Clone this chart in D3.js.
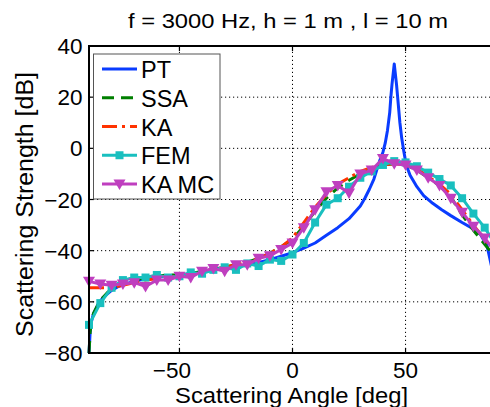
<!DOCTYPE html>
<html><head><meta charset="utf-8">
<script src="https://cdn.jsdelivr.net/npm/d3@7"></script>
<style>
body{margin:0;background:#fff;}
svg{display:block;font-family:"Liberation Sans",Arial,Helvetica,sans-serif;}
</style></head>
<body>
<svg id="chart" width="490" height="407"></svg>
<script>
const title = "f = 3000 Hz, h = 1 m , l = 10 m";
const xLabel = "Scattering Angle [deg]";
const yLabel = "Scattering Strength [dB]";
const xTicks = [-50, 0, 50];
const yTicks = [-80, -60, -40, -20, 0, 20, 40];
const seriesNames = ["PT", "SSA", "KA", "FEM", "KA MC"];

const ptAngle = [-90,-89.5,-89,-88,-86,-84,-82,-80,-77,-74,-70,-65,-60,-55,-50,-45,-40,-35,-30,-25,-20,-15,-10,-5,0,5,10,15,20,25,30,32,34,36,38.5,40,41,42,43,43.5,44,45,46,46.5,47.5,48.3,49.2,50.3,52,55,58,62,66,70,75,80,83,86,88,89,89.5,90];
const ptValue = [-80,-72,-68,-64.5,-61,-58.5,-57,-55.5,-54,-53,-52,-51,-50.3,-50,-49.5,-49,-48.3,-47.6,-47,-46.3,-45.5,-44.6,-43.5,-42.2,-40.8,-39,-37,-34,-31,-27.5,-22.5,-19.5,-16,-12,-5,-1.5,2,7,14,20,25,33,25,20,10,4,-1,-6.5,-10.5,-15,-18.5,-21.5,-24,-26.3,-29,-31.5,-33.5,-38,-46,-54,-62,-80];

const ssaAngle = [-90,-89.5,-89,-88,-86,-84,-82,-80,-77,-74,-70,-65,-60,-55,-50,-45,-40,-35,-30,-25,-20,-15,-10,-5,0,5,10,15,20,25,30,35,40,45,50,55,60,65,70,75,80,85,90];
const ssaValue = [-80,-72,-68,-64.5,-61,-58.5,-56.5,-55,-53.5,-52.5,-51.5,-50.5,-50,-49.5,-49.5,-49,-48,-47.2,-46.5,-45.5,-44.5,-43,-41,-38.5,-35.5,-30.5,-24.5,-19.5,-15.5,-12.5,-10,-8,-6.5,-6,-6.5,-8.5,-11.5,-14.5,-19,-26,-32,-37.5,-43];

const stepAngle = [-90,-85,-80,-75,-70,-65,-60,-55,-50,-45,-40,-35,-30,-25,-20,-15,-10,-5,0,5,10,15,20,25,30,35,40,45,50,55,60,65,70,75,80,85,90];
const kaValue = [-54.5,-54.5,-54.5,-53.5,-52.5,-51.5,-51,-50.5,-50,-49,-48,-47.5,-46.5,-45.5,-44.5,-43,-41,-38.5,-35,-29,-23,-18,-14,-11.5,-9,-7.5,-6.5,-6,-6.5,-8,-11,-14,-18,-24,-30,-35.5,-41];
const femValue = [-69,-60.5,-54.5,-51.5,-50.5,-50.5,-49.5,-50.5,-50,-48.5,-49,-47.5,-46.5,-47.5,-45,-46,-43.5,-44,-41.5,-37,-29,-22,-19.5,-15,-11.5,-9,-6.5,-5,-5.5,-7,-9.5,-12,-14.5,-19.5,-25.5,-31,-38];
const kamcValue = [-52,-53,-53.5,-53,-52.5,-54,-51.5,-51.5,-50,-50.5,-48,-47,-48,-45.5,-45.5,-43,-42,-39.5,-37,-31,-24,-17,-14.5,-17.5,-10,-8.5,-4,-6,-6.5,-8.5,-11.5,-14.5,-19.5,-25,-30.5,-35,-41];

const colors = {PT:"#0a3cff", SSA:"#007f00", KA:"#ff3300", FEM:"#19bfbf", "KA MC":"#bf3fbf"};
const dash = {PT:null, SSA:"12,7", KA:"15,5,3,5", FEM:null, "KA MC":null};

const svg = d3.select("#chart");
const x = d3.scaleLinear().domain([-90, 90]).range([89, 496]);
const y = d3.scaleLinear().domain([-80, 40]).range([353, 46]);

// grid
const grid = svg.append("g").attr("stroke", "#000").attr("stroke-width", 1).attr("stroke-dasharray", "1.2,2.8");
xTicks.forEach(t => grid.append("line").attr("x1", x(t)).attr("x2", x(t)).attr("y1", y(-80)).attr("y2", y(40)));
yTicks.forEach(t => grid.append("line").attr("x1", x(-90)).attr("x2", x(90)).attr("y1", y(t)).attr("y2", y(t)));

const line = d3.line().x(d => x(d[0])).y(d => y(d[1]));
const zip = (a, b) => a.map((v, i) => [v, b[i]]);

const ptData = zip(ptAngle, ptValue);
const ssaData = zip(ssaAngle, ssaValue);
const kaData = zip(stepAngle, kaValue);
const femData = zip(stepAngle, femValue);
const kamcData = zip(stepAngle, kamcValue);

const plot = svg.append("g").attr("fill", "none").attr("stroke-width", 3).attr("stroke-linejoin", "round");
plot.append("path").datum(ptData).attr("d", line).attr("stroke", colors.PT);
plot.append("path").datum(ssaData).attr("d", line).attr("stroke", colors.SSA).attr("stroke-dasharray", dash.SSA);
plot.append("path").datum(kaData).attr("d", line).attr("stroke", colors.KA).attr("stroke-dasharray", dash.KA);
plot.append("path").datum(femData).attr("d", line).attr("stroke", colors.FEM);
svg.append("g").selectAll("rect").data(femData).join("rect")
  .attr("x", d => x(d[0]) - 4).attr("y", d => y(d[1]) - 4).attr("width", 8).attr("height", 8)
  .attr("fill", colors.FEM);
svg.append("path").datum(kamcData).attr("d", line).attr("fill", "none").attr("stroke-width", 3).attr("stroke", colors["KA MC"]);
const tri = (cx, cy) => `M${cx-6},${cy-4.5}L${cx+6},${cy-4.5}L${cx},${cy+6}Z`;
svg.append("g").selectAll("path").data(kamcData).join("path")
  .attr("d", d => tri(x(d[0]), y(d[1]))).attr("fill", colors["KA MC"]);

// axes
const ax = svg.append("g").attr("stroke", "#000");
ax.append("line").attr("x1", x(-90) - 1).attr("x2", 500).attr("y1", y(-80)).attr("y2", y(-80)).attr("stroke-width", 2);
ax.append("line").attr("x1", x(-90) - 1).attr("x2", 500).attr("y1", y(40)).attr("y2", y(40)).attr("stroke-width", 2);
ax.append("line").attr("x1", x(-90)).attr("x2", x(-90)).attr("y1", y(-80) + 1).attr("y2", y(40) - 1).attr("stroke-width", 2);
xTicks.forEach(t => {
  ax.append("line").attr("x1", x(t)).attr("x2", x(t)).attr("y1", y(-80)).attr("y2", y(-80) - 5).attr("stroke-width", 1.2);
  ax.append("line").attr("x1", x(t)).attr("x2", x(t)).attr("y1", y(40)).attr("y2", y(40) + 5).attr("stroke-width", 1.2);
});
yTicks.forEach(t => {
  ax.append("line").attr("x1", x(-90)).attr("x2", x(-90) + 5).attr("y1", y(t)).attr("y2", y(t)).attr("stroke-width", 1.2);
});

const fmt = v => (v < 0 ? "\u2212" : "") + Math.abs(v);
const tl = svg.append("g").attr("font-size", 22.5).attr("fill", "#000");
xTicks.forEach(t => tl.append("text").attr("x", x(t) + (t < 0 ? -7.5 : 0)).attr("y", 378).attr("text-anchor", "middle").text(fmt(t)));
yTicks.forEach(t => tl.append("text").attr("x", 82.5).attr("y", y(t)).attr("dy", "0.36em").attr("text-anchor", "end").text(fmt(t)));

svg.append("text").attr("x", 175).attr("y", 402.5).attr("font-size", 21.5)
  .attr("textLength", 233).attr("lengthAdjust", "spacingAndGlyphs").text(xLabel);
svg.append("text").attr("transform", "translate(33,337) rotate(-90)").attr("font-size", 23)
  .attr("textLength", 265).attr("lengthAdjust", "spacingAndGlyphs").text(yLabel);
svg.append("text").attr("x", 128).attr("y", 28).attr("font-size", 21)
  .attr("textLength", 320).attr("lengthAdjust", "spacingAndGlyphs").text(title);

// legend
const lg = svg.append("g");
lg.append("rect").attr("x", 93.5).attr("y", 54).attr("width", 126.5).attr("height", 145).attr("fill", "#fff").attr("stroke", "#555").attr("stroke-width", 1);
seriesNames.forEach((n, i) => {
  const cy = 69 + i * 28.75;
  lg.append("line").attr("x1", 102).attr("x2", 137).attr("y1", cy).attr("y2", cy)
    .attr("stroke", colors[n]).attr("stroke-width", 3).attr("stroke-dasharray", dash[n]);
  if (n === "FEM") lg.append("rect").attr("x", 115.5).attr("y", cy - 4).attr("width", 8).attr("height", 8).attr("fill", colors[n]);
  if (n === "KA MC") lg.append("path").attr("d", tri(119.5, cy)).attr("fill", colors[n]);
  lg.append("text").attr("x", 141).attr("y", cy + 9).attr("font-size", 23.5).text(n);
});
</script>
</body></html>
